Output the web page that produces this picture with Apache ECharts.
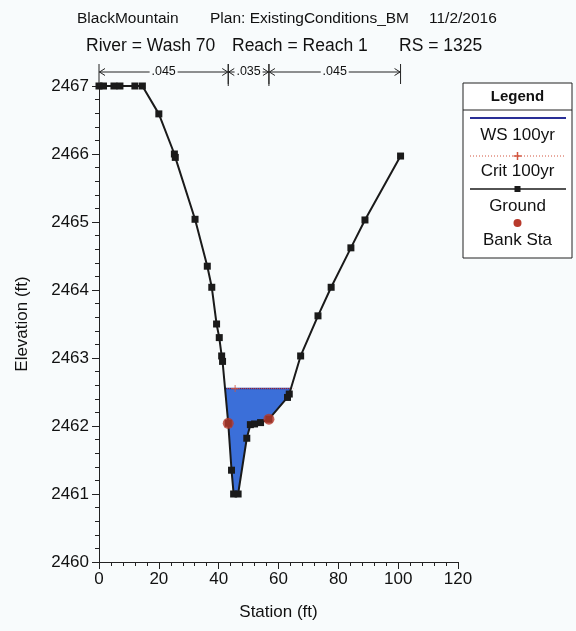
<!DOCTYPE html>
<html>
<head>
<meta charset="utf-8">
<script src="https://cdn.jsdelivr.net/npm/echarts@6/dist/echarts.min.js"></script>
<style>
html,body{margin:0;padding:0;background:#f8fbfc;}
#main{width:576px;height:631px;}
</style>
</head>
<body>
<div id="main"></div>
<script>
// ---- Data ----
const groundStation = [0, 1.5, 5, 7, 12, 14.5, 20.0, 25.2, 25.5, 32.1, 36.2, 37.7, 39.3, 40.2, 41.0, 41.3, 43.2, 44.3, 45.0, 46.5, 49.4, 50.6, 52.0, 54.0, 56.8, 63.0, 63.6, 67.4, 73.2, 77.6, 84.2, 88.9, 100.8];
const groundElev    = [2467.0, 2467.0, 2467.0, 2467.0, 2467.0, 2467.0, 2466.59, 2466.0, 2465.95, 2465.04, 2464.35, 2464.04, 2463.5, 2463.3, 2463.03, 2462.95, 2462.04, 2461.35, 2461.0, 2461.0, 2461.82, 2462.02, 2462.03, 2462.05, 2462.1, 2462.42, 2462.47, 2463.03, 2463.62, 2464.04, 2464.62, 2465.03, 2465.97];
const bankStation = [43.2, 56.8];
const bankElev    = [2462.04, 2462.10];
const wsElev = 2462.55;
const critElev = 2462.55;
const critMarkStation = [45.5];
const nValues = ['.045', '.035', '.045'];
const titleLine1 = ['BlackMountain', 'Plan: ExistingConditions_BM', '11/2/2016'];
const titleLine2 = ['River = Wash 70', 'Reach = Reach 1', 'RS = 1325'];

// ---- Derived geometry (from the data) ----
const ground = groundStation.map((s, i) => [s, groundElev[i]]);
function intersections(level) {
  const res = [];
  for (let i = 0; i < ground.length - 1; i++) {
    const [x1, y1] = ground[i], [x2, y2] = ground[i + 1];
    if ((y1 - level) * (y2 - level) < 0) {
      const t = (level - y1) / (y2 - y1);
      res.push(x1 + t * (x2 - x1));
    }
  }
  return res;
}
const wsX = intersections(wsElev);
const wsLeft = wsX[0], wsRight = wsX[wsX.length - 1];
const waterPoly = [[wsLeft, wsElev]]
  .concat(ground.filter(p => p[0] > wsLeft && p[0] < wsRight))
  .concat([[wsRight, wsElev]]);
const critX = intersections(critElev);
const critLeft = critX[0], critRight = critX[critX.length - 1];
const nBreaks = [groundStation[0], bankStation[0], bankStation[1], groundStation[groundStation.length - 1]];
const nSegments = nValues.map((v, i) => [nBreaks[i], nBreaks[i + 1], v]);

const FONT = 'Arial, "Liberation Sans", sans-serif';
const chart = echarts.init(document.getElementById('main'), null, {renderer: 'canvas'});

function titleItem(text, left, top, size) {
  return {text: text, left: left, top: top, padding: 0,
    textStyle: {fontFamily: FONT, fontSize: size, fontWeight: 'normal', color: '#111'}};
}
const CRIT = '#d2553f';

const option = {
  backgroundColor: '#f8fbfc',
  animation: false,
  title: [
    titleItem(titleLine1[0], 77, 11, 15.5),
    titleItem(titleLine1[1], 210, 11, 15.5),
    titleItem(titleLine1[2], 429, 11, 15.5),
    titleItem(titleLine2[0], 86, 37, 17.5),
    titleItem(titleLine2[1], 232, 37, 17.5),
    titleItem(titleLine2[2], 399, 37, 17.5)
  ],
  grid: {left: 99, right: 118, top: 86, bottom: 69, containLabel: false},
  xAxis: {
    type: 'value', min: 0, max: 120, interval: 20,
    name: 'Station (ft)', nameLocation: 'middle', nameGap: 42,
    nameTextStyle: {fontFamily: FONT, fontSize: 17, color: '#111'},
    axisLine: {show: true, onZero: false, lineStyle: {color: '#222', width: 1}},
    axisTick: {show: true, length: 7, lineStyle: {color: '#222'}},
    minorTick: {show: true, splitNumber: 5, length: 4, lineStyle: {color: '#222'}},
    axisLabel: {fontFamily: FONT, fontSize: 17, color: '#111', margin: 9},
    splitLine: {show: false}
  },
  yAxis: {
    type: 'value', min: 2460, max: 2467, interval: 1,
    name: 'Elevation (ft)', nameLocation: 'middle', nameGap: 68, nameRotate: 90,
    nameTextStyle: {fontFamily: FONT, fontSize: 17, color: '#111'},
    axisLine: {show: true, onZero: false, lineStyle: {color: '#222', width: 1}},
    axisTick: {show: true, length: 7, lineStyle: {color: '#222'}},
    minorTick: {show: true, splitNumber: 5, length: 4, lineStyle: {color: '#222'}},
    axisLabel: {fontFamily: FONT, fontSize: 17, color: '#111', margin: 10, formatter: v => String(v)},
    splitLine: {show: false}
  },
  series: [
    {
      name: 'Water', type: 'custom', silent: true, z: 1,
      data: [0],
      renderItem: function (params, api) {
        const pts = waterPoly.map(p => api.coord(p));
        return {type: 'polygon', shape: {points: pts}, style: {fill: '#3b6fd9', stroke: 'none'}};
      }
    },
    {
      name: 'WS 100yr', type: 'line', z: 3, symbol: 'none',
      data: [[wsLeft, wsElev], [wsRight, wsElev]],
      lineStyle: {color: '#2a2f96', width: 1.5}
    },
    {
      name: 'Crit 100yr', type: 'line', z: 4, symbol: 'none',
      data: [[critLeft, critElev], [critRight + 0.8, critElev]],
      lineStyle: {color: CRIT, width: 1, type: 'dotted'}
    },
    {
      name: 'Crit mark', type: 'scatter', z: 4,
      symbol: 'path://M-0.6,-4H0.6V-0.6H4V0.6H0.6V4H-0.6V0.6H-4V-0.6H-0.6Z', symbolSize: 7,
      data: critMarkStation.map(s => [s, critElev]),
      itemStyle: {color: CRIT}
    },
    {
      name: 'Ground', type: 'line', z: 5,
      data: ground,
      symbol: 'rect', symbolSize: 7, showAllSymbol: true,
      lineStyle: {color: '#1a1a1a', width: 2},
      itemStyle: {color: '#1a1a1a'}
    },
    {
      name: 'Bank Sta', type: 'scatter', z: 6,
      data: bankStation.map((s, i) => [s, bankElev[i]]),
      symbol: 'circle', symbolSize: 11,
      itemStyle: {color: '#b83a2c'}
    },
    {
      name: 'n values', type: 'custom', z: 7, silent: true, clip: false,
      data: nSegments.map((s, i) => [s[0], s[1], i]),
      renderItem: function (params, api) {
        const seg = nSegments[params.dataIndex];
        const top = params.coordSys.y;
        const x1 = api.coord([seg[0], 2460])[0];
        const x2 = api.coord([seg[1], 2460])[0];
        const y = top - 14;
        const cx = (x1 + x2) / 2;
        const half = 14;
        const st = {stroke: '#222', lineWidth: 1, fill: null};
        const children = [
          {type: 'line', shape: {x1: x1, y1: top - 22, x2: x1, y2: top}, style: st},
          {type: 'line', shape: {x1: x2, y1: top - 22, x2: x2, y2: top - 2}, style: st},
          {type: 'line', shape: {x1: x1, y1: y, x2: Math.max(x1, cx - half), y2: y}, style: st},
          {type: 'line', shape: {x1: Math.min(x2, cx + half), y1: y, x2: x2, y2: y}, style: st},
          {type: 'polyline', shape: {points: [[x1 + 6, y - 3.5], [x1 + 0.5, y], [x1 + 6, y + 3.5]]}, style: st},
          {type: 'polyline', shape: {points: [[x2 - 6, y - 3.5], [x2 - 0.5, y], [x2 - 6, y + 3.5]]}, style: st},
          {type: 'text', style: {text: seg[2], x: cx, y: y, align: 'center', verticalAlign: 'middle',
            font: '12.5px ' + FONT, fill: '#111'}}
        ];
        return {type: 'group', children: children};
      }
    }
  ],
  graphic: [
    {
      type: 'group', x: 463, y: 83,
      children: [
        {type: 'rect', shape: {x: 0, y: 0, width: 109, height: 175}, style: {fill: '#fff', stroke: '#222', lineWidth: 1}},
        {type: 'text', style: {text: 'Legend', x: 54.5, y: 14, align: 'center', verticalAlign: 'middle', font: 'bold 15px ' + FONT, fill: '#111'}},
        {type: 'line', shape: {x1: 0, y1: 27, x2: 109, y2: 27}, style: {stroke: '#222', lineWidth: 1}},
        {type: 'line', shape: {x1: 7, y1: 35, x2: 103, y2: 35}, style: {stroke: '#2a2f96', lineWidth: 2}},
        {type: 'text', style: {text: 'WS 100yr', x: 54.5, y: 52, align: 'center', verticalAlign: 'middle', font: '17px ' + FONT, fill: '#111'}},
        {type: 'line', shape: {x1: 7, y1: 73, x2: 103, y2: 73}, style: {stroke: CRIT, lineWidth: 1, lineDash: [1, 2]}},
        {type: 'line', shape: {x1: 50.5, y1: 73, x2: 58.5, y2: 73}, style: {stroke: CRIT, lineWidth: 1.5}},
        {type: 'line', shape: {x1: 54.5, y1: 69, x2: 54.5, y2: 77}, style: {stroke: CRIT, lineWidth: 1.5}},
        {type: 'text', style: {text: 'Crit 100yr', x: 54.5, y: 88, align: 'center', verticalAlign: 'middle', font: '17px ' + FONT, fill: '#111'}},
        {type: 'line', shape: {x1: 7, y1: 106, x2: 103, y2: 106}, style: {stroke: '#1a1a1a', lineWidth: 1.5}},
        {type: 'rect', shape: {x: 51.5, y: 103, width: 6, height: 6}, style: {fill: '#1a1a1a'}},
        {type: 'text', style: {text: 'Ground', x: 54.5, y: 123, align: 'center', verticalAlign: 'middle', font: '17px ' + FONT, fill: '#111'}},
        {type: 'circle', shape: {cx: 54.5, cy: 140, r: 4}, style: {fill: '#b83a2c'}},
        {type: 'text', style: {text: 'Bank Sta', x: 54.5, y: 157, align: 'center', verticalAlign: 'middle', font: '17px ' + FONT, fill: '#111'}}
      ]
    }
  ]
};
chart.setOption(option);
</script>
</body>
</html>
